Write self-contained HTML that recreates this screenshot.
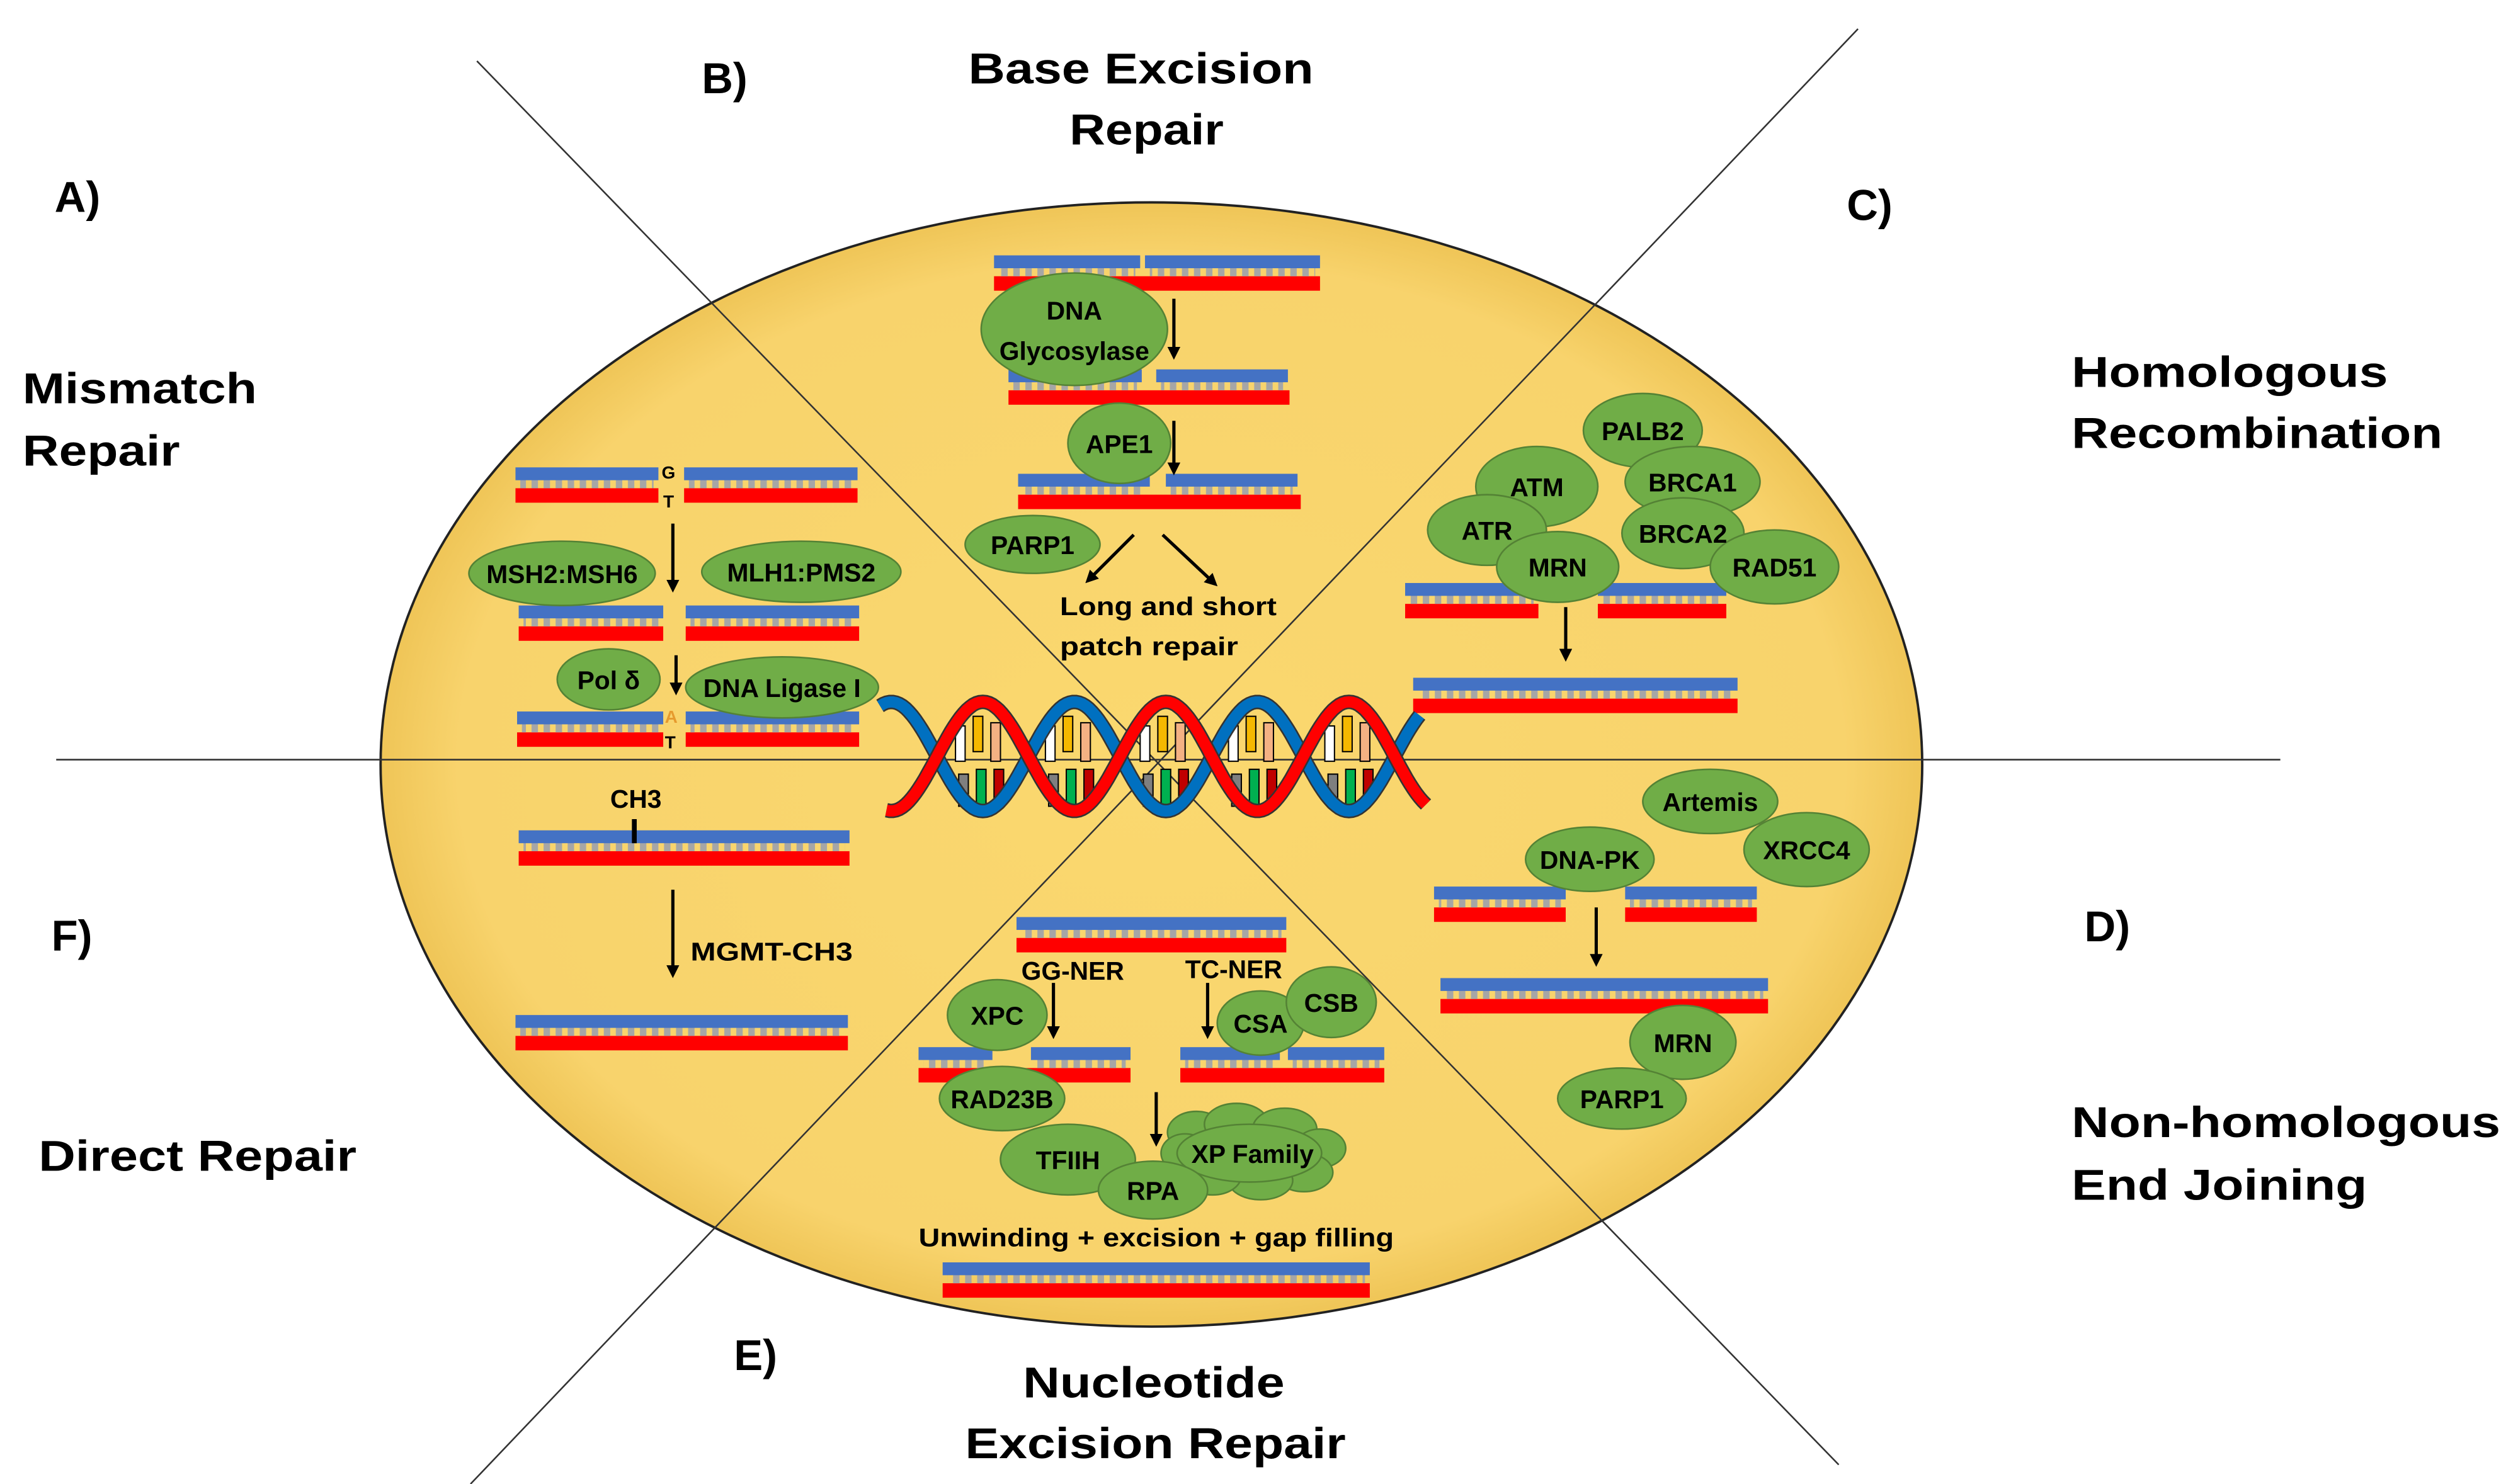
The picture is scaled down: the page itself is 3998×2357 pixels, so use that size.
<!DOCTYPE html>
<html><head><meta charset="utf-8"><style>
html,body{margin:0;padding:0;background:#fff;}
svg{display:block;}
text{font-family:"Liberation Sans",sans-serif;font-weight:bold;fill:#000;}
</style></head><body>
<svg id="s" width="3998" height="2357" viewBox="0 0 1568 924" preserveAspectRatio="none" xmlns="http://www.w3.org/2000/svg">
<defs>
<radialGradient id="eg" cx="50%" cy="50%" r="50%">
<stop offset="0" stop-color="#fad86f"/><stop offset="0.9" stop-color="#f8d36c"/><stop offset="1" stop-color="#efc557"/>
</radialGradient>
<pattern id="dots" x="0" y="0" width="7.5" height="10" patternUnits="userSpaceOnUse">
<rect x="1" y="0" width="4" height="10" fill="#a6a6a6"/>
</pattern>
<marker id="ah" markerWidth="8" markerHeight="8" refX="5" refY="4" orient="auto" markerUnits="userSpaceOnUse"><path d="M0,0 L8,4 L0,8 Z" fill="#000"/></marker>
</defs>
<rect width="1568" height="924" fill="#fff"/>
<ellipse cx="717" cy="476" rx="480" ry="350" fill="url(#eg)" stroke="#222" stroke-width="1.5"/>
<line x1="297" y1="38" x2="1145" y2="912" stroke="#333" stroke-width="1"/>
<line x1="1157" y1="18" x2="293" y2="924" stroke="#333" stroke-width="1"/>
<line x1="35" y1="473" x2="1420" y2="473" stroke="#333" stroke-width="1"/>
<g id="strands"></g>
<g id="helix"></g>
<g id="prot" fill="#70ad47" stroke="#548235" stroke-width="1"></g>
<g id="arr" stroke="#000" stroke-width="2" marker-end="url(#ah)"></g>
<g font-size="27" lengthAdjust="spacingAndGlyphs">
<text x="34" y="132">A)</text>
<text x="437" y="58">B)</text>
<text x="603" y="52" textLength="215" lengthAdjust="spacingAndGlyphs">Base Excision</text>
<text x="666" y="90" textLength="96" lengthAdjust="spacingAndGlyphs">Repair</text>
<text x="1150" y="137">C)</text>
<text x="1290" y="241" textLength="197" lengthAdjust="spacingAndGlyphs">Homologous</text>
<text x="1290" y="279" textLength="231" lengthAdjust="spacingAndGlyphs">Recombination</text>
<text x="14" y="251" textLength="146" lengthAdjust="spacingAndGlyphs">Mismatch</text>
<text x="14" y="290" textLength="98" lengthAdjust="spacingAndGlyphs">Repair</text>
<text x="32" y="592">F)</text>
<text x="24" y="729" textLength="198" lengthAdjust="spacingAndGlyphs">Direct Repair</text>
<text x="457" y="853">E)</text>
<text x="637" y="870" textLength="163" lengthAdjust="spacingAndGlyphs">Nucleotide</text>
<text x="601" y="908" textLength="237" lengthAdjust="spacingAndGlyphs">Excision Repair</text>
<text x="1298" y="586">D)</text>
<text x="1290" y="708" textLength="267" lengthAdjust="spacingAndGlyphs">Non-homologous</text>
<text x="1290" y="747" textLength="184" lengthAdjust="spacingAndGlyphs">End Joining</text>
</g>
<g font-size="16">
<text x="660" y="383" textLength="135" lengthAdjust="spacingAndGlyphs">Long and short</text>
<text x="660" y="408" textLength="111" lengthAdjust="spacingAndGlyphs">patch repair</text>
<text x="430" y="598" textLength="101" lengthAdjust="spacingAndGlyphs">MGMT-CH3</text>
<text x="636" y="610">GG-NER</text>
<text x="738" y="609">TC-NER</text>
<text x="572" y="776" textLength="296" lengthAdjust="spacingAndGlyphs">Unwinding + excision + gap filling</text>
<text x="380" y="503">CH3</text>
<text x="412" y="298" font-size="11">G</text>
<text x="413" y="316" font-size="11">T</text>
<text x="414" y="450" font-size="11" style="fill:#e69a2e">A</text>
<text x="414" y="466" font-size="11">T</text>
</g>
<line x1="395" y1="510" x2="395" y2="525" stroke="#000" stroke-width="3"/>
<g id="plab" font-size="16" text-anchor="middle"></g>
</svg>
<script>
var NS="http://www.w3.org/2000/svg";
function el(p,t,a,txt){var e=document.createElementNS(NS,t);for(var k in a)e.setAttribute(k,a[k]);if(txt)e.textContent=txt;document.getElementById(p).appendChild(e);return e;}
function strand(y,blues,reds){
 reds.forEach(function(r){el("strands","rect",{x:r[0],y:y+13,width:r[1]-r[0],height:9,fill:"#ff0000"});});
 blues.forEach(function(b){
  el("strands","rect",{x:b[0]+3,y:y+7,width:b[1]-b[0]-6,height:6,fill:"url(#dots)"});
  el("strands","rect",{x:b[0],y:y,width:b[1]-b[0],height:8,fill:"#4472c4"});
 });
}
strand(291,[[321,410],[426,534]],[[321,410],[426,534]]);
strand(377,[[323,413],[427,535]],[[323,413],[427,535]]);
strand(443,[[322,413],[427,535]],[[322,413],[427,535]]);
strand(159,[[619,710],[713,822]],[[619,822]]);
strand(230,[[628,711],[720,802]],[[628,803]]);
strand(295,[[634,716],[726,808]],[[634,810]]);
strand(363,[[875,958],[995,1075]],[[875,958],[995,1075]]);
strand(422,[[880,1082]],[[880,1082]]);
strand(517,[[323,529]],[[323,529]]);
strand(632,[[321,528]],[[321,528]]);
strand(552,[[893,975],[1012,1094]],[[893,975],[1012,1094]]);
strand(609,[[897,1101]],[[897,1101]]);
strand(571,[[633,801]],[[633,801]]);
strand(652,[[572,618],[642,704]],[[572,704]]);
strand(652,[[735,797],[802,862]],[[735,862]]);
strand(786,[[587,853]],[[587,853]]);
function wave(sign,x0,x1){var d="";for(var x=x0;x<=x1;x+=2){var y=471-sign*34*Math.cos(2*Math.PI*(x-612)/114);d+=(x==x0?"M":"L")+x+","+y.toFixed(1);}return d;}
var cs=[612,668,727,782,842];
cs.forEach(function(c){
 el("helix","rect",{x:c-17,y:452,width:6,height:22,fill:"#fff",stroke:"#000","stroke-width":0.8});
 el("helix","rect",{x:c-6,y:446,width:6,height:22,fill:"#f5b800",stroke:"#000","stroke-width":0.8});
 el("helix","rect",{x:c+5,y:450,width:6,height:24,fill:"#f4b183",stroke:"#000","stroke-width":0.8});
 el("helix","rect",{x:c-15,y:482,width:6,height:20,fill:"#7f7f7f",stroke:"#000","stroke-width":0.8});
 el("helix","rect",{x:c-4,y:479,width:6,height:26,fill:"#00b050",stroke:"#000","stroke-width":0.8});
 el("helix","rect",{x:c+7,y:479,width:6,height:20,fill:"#c00000",stroke:"#000","stroke-width":0.8});
});
el("helix","path",{d:wave(-1,548,885),fill:"none",stroke:"#333","stroke-width":9});
el("helix","path",{d:wave(-1,548,885),fill:"none",stroke:"#0070c0","stroke-width":7});
el("helix","path",{d:wave(1,552,888),fill:"none",stroke:"#333","stroke-width":9});
el("helix","path",{d:wave(1,552,888),fill:"none",stroke:"#ff0000","stroke-width":7});
var P=[["DNA|Glycosylase",669,205,58,35],["APE1",697,276,32,25],["PARP1",643,339,42,18],["MSH2:MSH6",350,357,58,20],["MLH1:PMS2",499,356,62,19],["Pol δ",379,423,32,19],["DNA Ligase I",487,428,60,19],
["PALB2",1023,268,37,23],["ATM",957,303,38,25],["BRCA1",1054,300,42,22],["ATR",926,330,37,22],["BRCA2",1048,332,38,22],["MRN",970,353,38,22],["RAD51",1105,353,40,23],
["Artemis",1065,499,42,20],["XRCC4",1125,529,39,23],["DNA-PK",990,535,40,20],["MRN",1048,649,33,23],["PARP1",1010,684,40,19],
["XPC",621,632,31,22],["CSA",785,637,27,20],["CSB",829,624,28,22],["RAD23B",624,684,39,20],["TFIIH",665,722,42,22],["RPA",718,741,34,18]];
[[745,705,18,13],[770,700,20,13],[800,703,20,13],[822,715,16,12],[812,730,18,12],[785,735,20,12],[755,732,18,12],[738,718,15,12],[778,718,45,18]].forEach(function(c){el("prot","ellipse",{cx:c[0],cy:c[1],rx:c[2],ry:c[3]});});
P.forEach(function(p){
 el("prot","ellipse",{cx:p[1],cy:p[2],rx:p[3],ry:p[4]});
 var L=p[0].split("|");
 if(L.length==2){el("plab","text",{x:p[1],y:p[2]-6},L[0]);el("plab","text",{x:p[1],y:p[2]+19},L[1]);}
 else el("plab","text",{x:p[1],y:p[2]+6},L[0]);
});
el("plab","text",{x:780,y:724},"XP Family");
[[419,326,419,366],[421,408,421,430],[731,186,731,221],[731,262,731,293],[706,333,678,361],[724,333,756,363],[975,378,975,409],[419,554,419,606],[994,565,994,599],[656,612,656,644],[752,612,752,644],[720,680,720,711]].forEach(function(a){el("arr","line",{x1:a[0],y1:a[1],x2:a[2],y2:a[3]});});
</script>
</body></html>
